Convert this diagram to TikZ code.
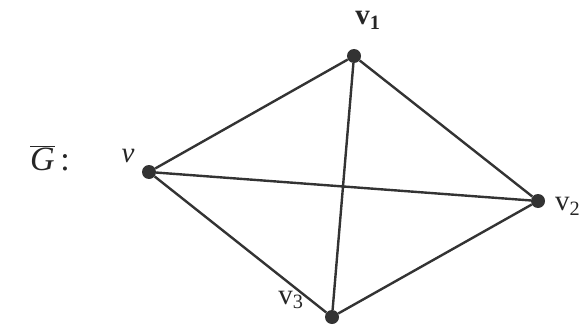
\documentclass[tikz,border=0pt]{standalone}
\usepackage{fontspec}
\setmainfont{Liberation Serif}
\begin{document}
\begin{tikzpicture}[x=1pt,y=-1pt,
  vtx/.style={circle,fill=black!80,inner sep=0pt,minimum size=14pt},
  edge/.style={draw=black!80,line width=2.4pt},
  lbl/.style={font=\fontsize{29}{32}\selectfont,text=black!85,inner sep=0pt}]
\useasboundingbox (0,0) rectangle (583,329);
\clip (0,0) rectangle (583,329);
\node[vtx] (v1) at (354,56) {};
\node[vtx] (v) at (149,172) {};
\node[vtx] (v2) at (538,201) {};
\node[vtx] (v3) at (332,317) {};
\draw[edge] (v) -- (v1);
\draw[edge] (v1) -- (v2);
\draw[edge] (v) -- (v2);
\draw[edge] (v) -- (v3);
\draw[edge] (v1) -- (v3);
\draw[edge] (v3) -- (v2);
\node[lbl] (l1) at (368,20) {\textbf{v\textsubscript{1}}};
\node[lbl] (l) at (128,156) {\textit{v}};
\node[lbl,anchor=west] (l2) at (555,206) {v\textsubscript{2}};
\node[lbl] (l3) at (291,300) {v\textsubscript{3}};
\node[lbl,anchor=west,font=\fontsize{34}{38}\selectfont] (g) at (30,158) {$\overline{\mbox{\textit{G}}}$\,:};
\end{tikzpicture}
\end{document}
